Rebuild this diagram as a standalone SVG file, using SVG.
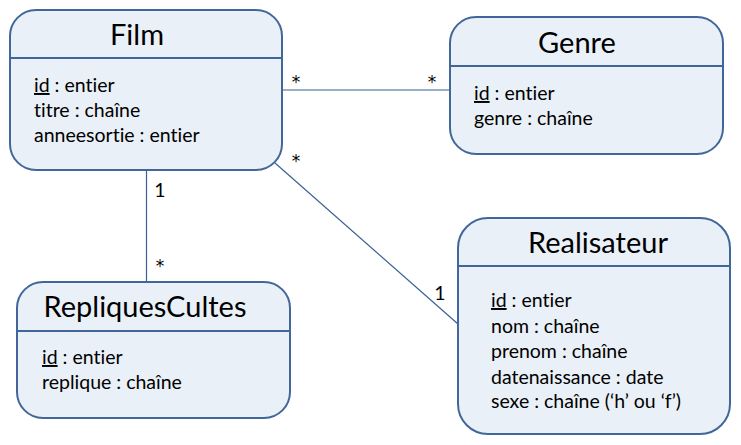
<svg xmlns="http://www.w3.org/2000/svg" width="741" height="445" viewBox="0 0 741 445">
<style>
.box{fill:#eaf0f7;stroke:#41669a;stroke-width:2}
.div{stroke:#41669a;stroke-width:2}
text{font-variant-ligatures:none}
.t{font-family:Lato,"Liberation Sans",sans-serif;font-size:29px;fill:#000;text-anchor:middle}
.a{font-family:Lato,"Liberation Sans",sans-serif;font-size:19.5px;fill:#000}
.c{stroke:#3a6195;stroke-width:1.2;fill:none}
.m{font-family:Lato,"Liberation Sans",sans-serif;font-size:19.5px;fill:#000;text-anchor:middle}
.s{font-family:"DejaVu Sans",sans-serif;font-size:17px;fill:#000;text-anchor:middle}
</style>
<rect width="741" height="445" fill="#fff"/>
<g id="connectors">
<line class="c" x1="282" y1="90" x2="450" y2="90"/>
<line class="c" x1="146.5" y1="170" x2="146.5" y2="282"/>
<line class="c" x1="275" y1="163" x2="458" y2="324"/>
<text class="s" x="296" y="88">*</text>
<text class="s" x="432" y="88">*</text>
<text class="s" x="296" y="167">*</text>
<text class="m" x="160" y="197">1</text>
<text class="s" x="160" y="272">*</text>
<text class="m" x="440" y="300">1</text>
</g>
<g id="film">
<rect class="box" x="10" y="10" width="272" height="160" rx="26"/>
<line class="div" x1="10" y1="58" x2="282" y2="58"/>
<text class="t" x="137" y="45">Film</text>
<text class="a" x="34" y="92"><tspan text-decoration="underline">id</tspan> : entier</text>
<text class="a" x="34" y="117">titre : chaîne</text>
<text class="a" x="34" y="142">anneesortie  : entier</text>
</g>
<g id="genre">
<rect class="box" x="450" y="17" width="273" height="137" rx="26"/>
<line class="div" x1="450" y1="66" x2="723" y2="66"/>
<text class="t" x="577" y="53">Genre</text>
<text class="a" x="474" y="100"><tspan text-decoration="underline">id</tspan> : entier</text>
<text class="a" x="474" y="125">genre : chaîne</text>
</g>
<g id="repliquescultes">
<rect class="box" x="17" y="282" width="273" height="136" rx="26"/>
<line class="div" x1="17" y1="331" x2="290" y2="331"/>
<text class="t" x="145" y="317">RepliquesCultes</text>
<text class="a" x="42" y="364"><tspan text-decoration="underline">id</tspan> : entier</text>
<text class="a" x="42" y="389">replique : chaîne</text>
</g>
<g id="realisateur">
<rect class="box" x="458" y="218" width="272" height="216" rx="30"/>
<line class="div" x1="458" y1="266" x2="730" y2="266"/>
<text class="t" x="598" y="253">Realisateur</text>
<text class="a" x="491" y="307"><tspan text-decoration="underline">id</tspan> : entier</text>
<text class="a" x="491" y="333">nom : chaîne</text>
<text class="a" x="491" y="358">prenom : chaîne</text>
<text class="a" x="491" y="384">datenaissance : date</text>
<text class="a" x="491" y="408">sexe : chaîne (‘h’ ou ‘f’)</text>
</g>
</svg>
